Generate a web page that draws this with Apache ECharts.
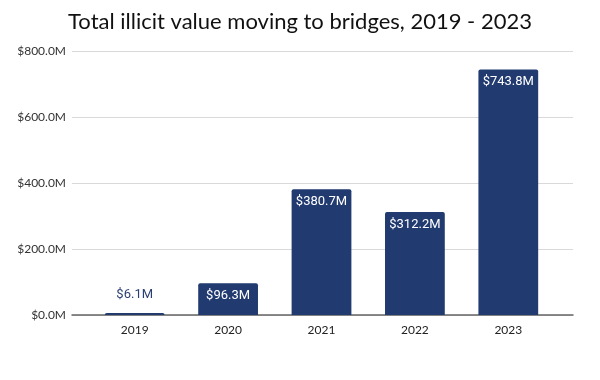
<!DOCTYPE html>
<html><head><meta charset="utf-8">
<script src="https://cdn.jsdelivr.net/npm/echarts@6/dist/echarts.min.js"></script>
<style>html,body{margin:0;padding:0;background:#fff}#c{width:600px;height:380px}</style>
</head><body><div id="c"></div>
<script>
const categories = ['2019', '2020', '2021', '2022', '2023'];
const values = [6.1, 96.3, 380.7, 312.2, 743.8];
const yTicks = [0, 200, 400, 600, 800];

const chart = echarts.init(document.getElementById('c'));
const barColor = '#213a6f';
chart.setOption({
  animation: false,
  backgroundColor: '#fff',
  title: {
    text: 'Total illicit value moving to bridges, 2019 - 2023',
    left: 'center', top: 6,
    textStyle: {fontFamily: 'Lato', fontSize: 22, fontWeight: 'normal', color: '#111'}
  },
  grid: [
    {left: 72, right: 27, top: 51, bottom: 65},
    {left: 88, right: 45, top: 51, bottom: 65}
  ],
  xAxis: [
    {gridIndex: 0, type: 'value', min: 0, max: 1, axisLabel: {show: false}, axisTick: {show: false}, splitLine: {show: false},
     axisLine: {show: true, lineStyle: {color: '#666', width: 1.5}}},
    {gridIndex: 1, type: 'category', data: categories, axisLine: {show: false}, axisTick: {show: false},
     axisLabel: {fontFamily: 'Lato', fontSize: 12, color: '#222', margin: 9}}
  ],
  yAxis: [
    {gridIndex: 0, type: 'value', min: yTicks[0], max: yTicks[yTicks.length - 1], interval: 200,
     axisLine: {show: false}, axisTick: {show: false},
     axisLabel: {fontFamily: 'Lato', fontSize: 12, color: '#333', margin: 6, formatter: v => '$' + v.toFixed(1) + 'M'},
     splitLine: {lineStyle: {color: '#d9d9d9', width: 1}}},
    {gridIndex: 1, type: 'value', min: 0, max: 800, interval: 200, show: false, splitLine: {show: false}}
  ],
  series: [{
    type: 'bar', xAxisIndex: 1, yAxisIndex: 1,
    barCategoryGap: '36%',
    data: values.map((v, i) => ({
      value: v,
      label: v < 50
        ? {show: true, position: 'top', distance: 12, color: '#2a3f6f'}
        : {show: true, position: 'insideTop', distance: 6, color: '#fff'}
    })),
    itemStyle: {color: barColor, borderRadius: [2, 2, 0, 0]},
    label: {fontFamily: 'Roboto', fontSize: 13, formatter: p => '$' + p.value.toFixed(1) + 'M'}
  }]
});
</script></body></html>
